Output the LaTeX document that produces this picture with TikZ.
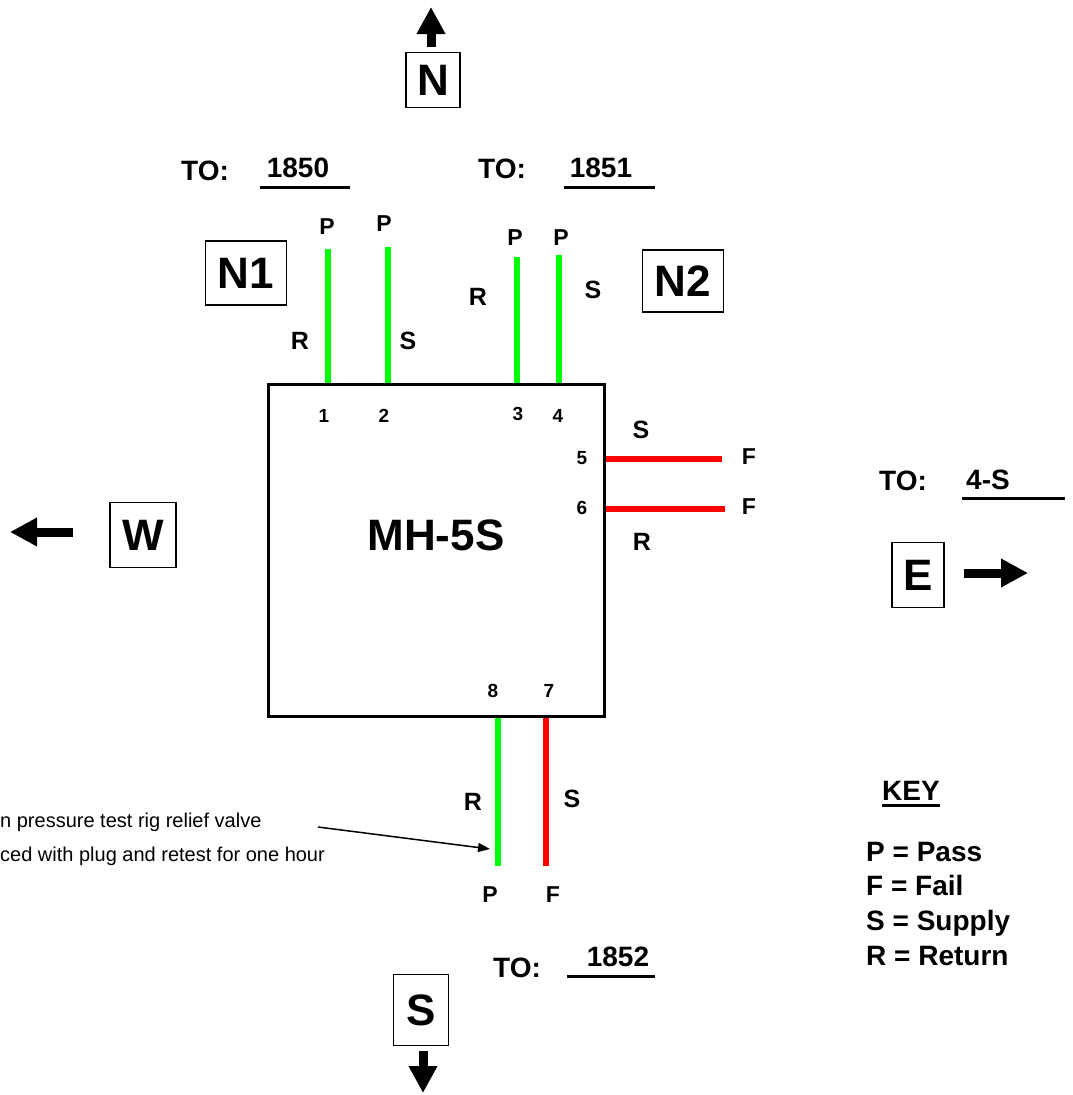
\documentclass[tikz,border=0pt]{standalone}
\usepackage{fontspec}
\setmainfont{Liberation Sans}
\usetikzlibrary{arrows.meta,positioning}

\begin{document}
\begin{tikzpicture}[
  x=1pt, y=-1pt,
  every node/.style={inner sep=0pt},
  compass/.style={draw=black, line width=1.2pt, font=\bfseries\fontsize{44}{44}\selectfont},
  unitname/.style={font=\bfseries\fontsize{44}{44}\selectfont},
  tolbl/.style={font=\bfseries\fontsize{28}{28}\selectfont},
  sidelbl/.style={font=\bfseries\fontsize{25}{25}\selectfont},
  reslbl/.style={font=\bfseries\fontsize{23}{23}\selectfont},
  portnum/.style={font=\bfseries\fontsize{19}{19}\selectfont},
  keyline/.style={anchor=base west, font=\bfseries\fontsize{28}{28}\selectfont},
  remark/.style={anchor=base west, font=\fontsize{20}{20}\selectfont},
  pipeok/.style={draw=green, line width=6pt},
  pipefail/.style={draw=red, line width=6pt},
  bigarrow/.style={-{Triangle[length=27pt,width=27pt]}, line width=9pt},
  uline/.style={line width=3pt},
]
\useasboundingbox (0,0) rectangle (1073,1095);

% --- manhole ---
\node[draw, line width=3pt, minimum width=336pt, minimum height=332pt] (mh) at (436,550) {};
\node[unitname] (mhname) at (436,535) {MH-5S};

% --- compass ---
\node[compass, minimum width=54pt, minimum height=55pt] (nbox) at (433,80) {N};
\node[compass, minimum width=81pt, minimum height=64pt] (n1box) at (246,273) {N1};
\node[compass, minimum width=81pt, minimum height=62pt] (n2box) at (683,281) {N2};
\node[compass, minimum width=66pt, minimum height=65pt] (wbox) at (143,535) {W};
\node[compass, minimum width=52pt, minimum height=65pt] (ebox) at (918,575) {E};
\node[compass, minimum width=55pt, minimum height=71pt] (sbox) at (421,1010) {S};

\coordinate (ntail) at (431,47);   \coordinate (ntip) at (431,7);
\coordinate (wtail) at (73,532);   \coordinate (wtip) at (10,532);
\coordinate (etail) at (964,573);  \coordinate (etip) at (1028,573);
\coordinate (stail) at (423,1051); \coordinate (stip) at (423,1093);
\draw[bigarrow] (ntail) -- (ntip);
\draw[bigarrow] (wtail) -- (wtip);
\draw[bigarrow] (etail) -- (etip);
\draw[bigarrow] (stail) -- (stip);

% --- destinations ---
\node[tolbl] (to1) at (205,171) {TO:};
\node[tolbl] (dest1) at (298,168) {1850};
\node[tolbl] (to2) at (502,169) {TO:};
\node[tolbl] (dest2) at (601,168) {1851};
\node[tolbl] (to3) at (903,481) {TO:};
\node[tolbl] (dest3) at (988,480) {4-S};
\node[tolbl] (to4) at (517,968) {TO:};
\node[tolbl] (dest4) at (618,957) {1852};
\coordinate (u1a) at (260,187); \coordinate (u1b) at (350,187);
\coordinate (u2a) at (564,187); \coordinate (u2b) at (655,187);
\coordinate (u3a) at (962,498); \coordinate (u3b) at (1065,498);
\coordinate (u4a) at (567,976); \coordinate (u4b) at (655,976);
\draw[uline] (u1a) -- (u1b);
\draw[uline] (u2a) -- (u2b);
\draw[uline] (u3a) -- (u3b);
\draw[uline] (u4a) -- (u4b);

% --- pipes ---
\coordinate (t1) at (328,249);
\coordinate (t2) at (388,247);
\coordinate (t3) at (517,257);
\coordinate (t4) at (559,255);
\coordinate (t5) at (722,459);
\coordinate (t6) at (725,509);
\coordinate (t7) at (546,866);
\coordinate (t8) at (498,866);
\draw[pipeok] (t1) -- (t1 |- mh.north);
\draw[pipeok] (t2) -- (t2 |- mh.north);
\draw[pipeok] (t3) -- (t3 |- mh.north);
\draw[pipeok] (t4) -- (t4 |- mh.north);
\draw[pipefail] (t5) -- (t5 -| mh.east);
\draw[pipefail] (t6) -- (t6 -| mh.east);
\draw[pipefail] (t7) -- (t7 |- mh.south);
\draw[pipeok] (t8) -- (t8 |- mh.south);

% --- port numbers ---
\node[portnum] (num1) at (324,416) {1};
\node[portnum] (num2) at (384,416) {2};
\node[portnum] (num3) at (518,414) {3};
\node[portnum] (num4) at (558,416) {4};
\node[portnum] (num5) at (582,458) {5};
\node[portnum] (num6) at (582,508) {6};
\node[portnum] (num8) at (493,691) {8};
\node[portnum] (num7) at (549,691) {7};

% --- supply / return and results ---
\node[sidelbl] (side1) at (300,341) {R};
\node[sidelbl] (side2) at (408,341) {S};
\node[sidelbl] (side3) at (478,297) {R};
\node[sidelbl] (side4) at (593,290) {S};
\node[sidelbl] (side5) at (641,430) {S};
\node[sidelbl] (side6) at (642,542) {R};
\node[sidelbl] (side8) at (473,802) {R};
\node[sidelbl] (side7) at (572,799) {S};

\node[reslbl] (res1) at (327,227) {P};
\node[reslbl] (res2) at (384,224) {P};
\node[reslbl] (res3) at (515,238) {P};
\node[reslbl] (res4) at (561,238) {P};
\node[reslbl] (res5) at (749,457) {F};
\node[reslbl] (res6) at (749,507) {F};
\node[reslbl] (res8) at (490,895) {P};
\node[reslbl] (res7) at (553,895) {F};

% --- remark ---
\node[remark] (remark1) at (0,827) {n pressure test rig relief valve};
\node[remark] (remark2) at (0,861) {ced with plug and retest for one hour};
\coordinate (rtail) at (318,827);
\coordinate (rtip) at (490,849);
\draw[-{Triangle[length=12pt,width=9pt]}, line width=1.5pt] (rtail) -- (rtip);

% --- key ---
\node[tolbl] (key) at (911,791) {KEY};
\draw[uline] ([yshift=-5pt]key.south west) -- ([yshift=-5pt]key.south east);
\node[keyline] (keyp) at (866,861) {P = Pass};
\node[keyline] (keyf) at (866,895) {F = Fail};
\node[keyline] (keys) at (866,930) {S = Supply};
\node[keyline] (keyr) at (866,965) {R = Return};

\end{tikzpicture}
\end{document}
